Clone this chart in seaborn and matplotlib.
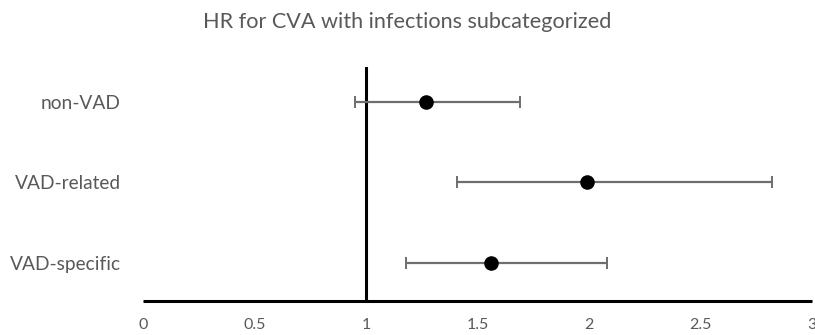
import matplotlib
matplotlib.use("Agg")
import matplotlib.pyplot as plt
import seaborn as sns
import pandas as pd
import numpy as np

categories = ["non-VAD", "VAD-related", "VAD-specific"]
hr = [1.27, 1.99, 1.56]
ci_low = [0.95, 1.41, 1.18]
ci_high = [1.69, 2.82, 2.08]
xticks = [0, 0.5, 1, 1.5, 2, 2.5, 3]
xtick_labels = ["0", "0.5", "1", "1.5", "2", "2.5", "3"]
title = "HR for CVA with infections subcategorized"

df = pd.DataFrame({"category": categories, "hr": hr, "lo": ci_low, "hi": ci_high})

sns.set_style("white")
plt.rcParams["font.family"] = ["Lato", "DejaVu Sans"]

fig = plt.figure(figsize=(8.15, 3.35), dpi=100)
ax = fig.add_axes([0.1755, 0.1015, 0.8205, 0.698])

ypos = np.arange(len(categories))
ax.errorbar(df["hr"], ypos,
            xerr=[df["hr"] - df["lo"], df["hi"] - df["hr"]],
            fmt="none", ecolor="#6e6e6e", elinewidth=1.6, capsize=4, capthick=1.4, zorder=2)
sns.scatterplot(data=df, x="hr", y=ypos, ax=ax, color="black", s=110, edgecolor="black",
                linewidth=0, zorder=3, legend=False)
ax.axvline(1, color="black", lw=2.2, zorder=1)

ax.set_xlim(0, 3)
ax.set_ylim(2.479, -0.434)
ax.set_yticks(ypos)
ax.set_yticklabels(categories)
ax.set_xticks(xticks)
ax.set_xticklabels(xtick_labels)
ax.set_xlabel("")
ax.set_ylabel("")

for s in ["left", "right", "top"]:
    ax.spines[s].set_visible(False)
ax.spines["bottom"].set_color("black")
ax.spines["bottom"].set_linewidth(2.2)
ax.spines["bottom"].set_capstyle("butt")

ax.tick_params(axis="x", direction="out", length=4, width=1.8, color="black",
               labelcolor="#595959", labelsize=11.5, pad=8)
ax.tick_params(axis="y", length=0, labelcolor="#595959", labelsize=13.8, pad=16)

fig.text(0.5, 0.935, title, ha="center", va="center", color="#595959", fontsize=15.6)

fig.savefig("out.png", dpi=100)
